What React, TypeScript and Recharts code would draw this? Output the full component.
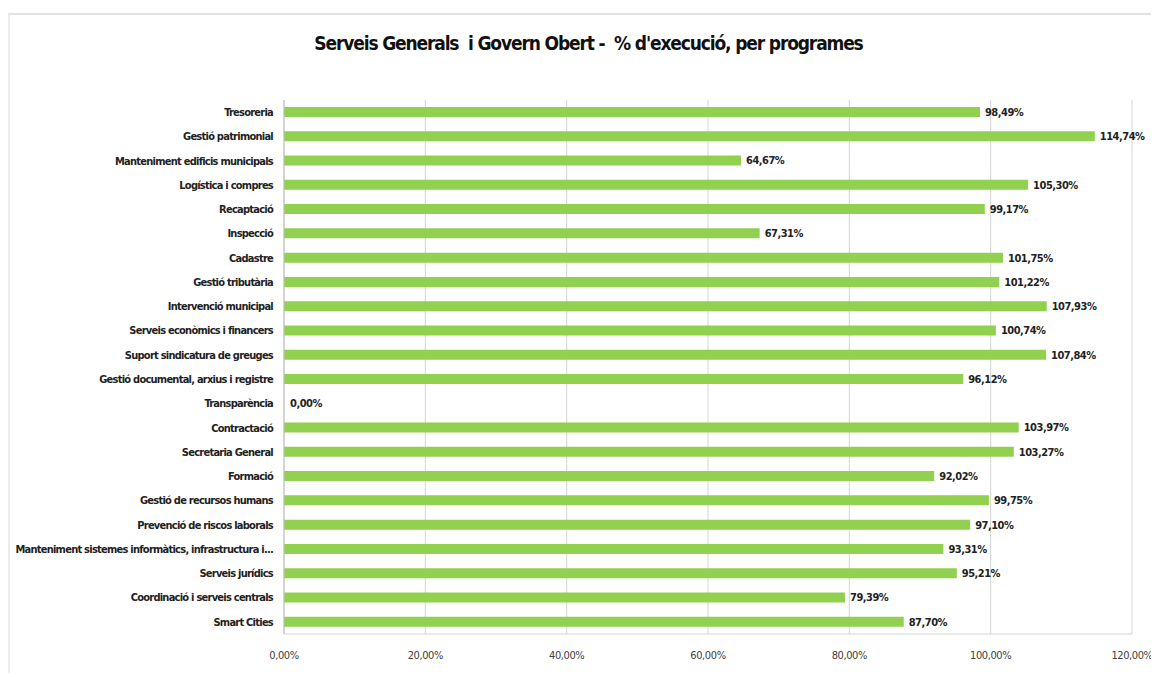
import React from "react";
import { BarChart, Bar, XAxis, YAxis, CartesianGrid, LabelList, Cell } from "recharts";

const programes = [
  "Tresoreria",
  "Gestió patrimonial",
  "Manteniment edificis municipals",
  "Logística i compres",
  "Recaptació",
  "Inspecció",
  "Cadastre",
  "Gestió tributària",
  "Intervenció municipal",
  "Serveis econòmics i financers",
  "Suport sindicatura de greuges",
  "Gestió documental, arxius i registre",
  "Transparència",
  "Contractació",
  "Secretaria General",
  "Formació",
  "Gestió de recursos humans",
  "Prevenció de riscos laborals",
  "Manteniment sistemes informàtics, infrastructura i...",
  "Serveis jurídics",
  "Coordinació i serveis centrals",
  "Smart Cities",
];

const execucio = [
  98.49, 114.74, 64.67, 105.3, 99.17, 67.31, 101.75, 101.22, 107.93, 100.74, 107.84,
  96.12, 0, 103.97, 103.27, 92.02, 99.75, 97.1, 93.31, 95.21, 79.39, 87.7,
];

const xTicks = [0, 20, 40, 60, 80, 100, 120];

const title = "Serveis Generals  i Govern Obert -  % d'execució, per programes";

const data = programes.map((name, i) => ({ name, value: execucio[i] }));

const fmt = (v: number) => v.toFixed(2).replace(".", ",") + "%";

const FONT = "'DejaVu Sans', sans-serif";
const BAR_COLOR = "#92D050";

const CategoryTick = (props: any) => {
  const { x, y, payload } = props;
  return (
    <text
      x={x}
      y={y}
      dy="0.355em"
      textAnchor="end"
      fontSize={11}
      fontWeight="bold"
      fill="#222"
      letterSpacing={-0.75}
      style={{ fontFamily: FONT, fontStretch: "condensed" }}
    >
      {payload.value}
    </text>
  );
};

const ValueTick = (props: any) => {
  const { x, y, payload } = props;
  return (
    <text
      x={x}
      y={y}
      dy="0.71em"
      textAnchor="middle"
      fontSize={11}
      fill="#404040"
      letterSpacing={-0.4}
      style={{ fontFamily: FONT, fontStretch: "condensed" }}
    >
      {fmt(Number(payload.value))}
    </text>
  );
};

const ValueLabel = (props: any) => {
  const { x, y, width, height, value } = props;
  const xx = Number(x) + Number(width || 0) + 5;
  const yy = Number(y) + Number(height) / 2;
  return (
    <text
      x={xx}
      y={yy}
      dy="0.355em"
      textAnchor="start"
      fontSize={11}
      fontWeight="bold"
      fill="#222"
      letterSpacing={-0.5}
      style={{ fontFamily: FONT, fontStretch: "condensed" }}
    >
      {fmt(Number(value))}
    </text>
  );
};

export default function App() {
  return (
    <div style={{ position: "relative", width: 1151, height: 665, fontFamily: FONT }}>
      <div
        style={{
          position: "absolute",
          left: 0,
          top: 5,
          width: 1151,
          height: 660,
          borderTop: "2px solid #e2e2e2",
          borderLeft: "2px solid #ececec",
          boxSizing: "border-box",
        }}
      />
      <div
        style={{
          position: "absolute",
          left: 10,
          top: 24,
          width: 1141,
          textAlign: "center",
          fontSize: 19,
          fontWeight: "bold",
          fontStretch: "condensed",
          letterSpacing: -1.15,
          color: "#111",
          whiteSpace: "pre",
        }}
      >
        {title}
      </div>
      <div style={{ position: "absolute", left: 0, top: 0 }}>
        <BarChart
          width={1151}
          height={665}
          data={data}
          layout="vertical"
          margin={{ top: 92, right: 27, bottom: 9, left: 0 }}
          barCategoryGap={7}
        >
          <CartesianGrid horizontal={false} stroke="#d4d4d4" />
          <XAxis
            type="number"
            domain={[0, 120]}
            ticks={xTicks}
            axisLine={{ stroke: "#d4d4d4" }}
            tickLine={false}
            tickSize={0}
            tickMargin={17}
            height={30}
            tick={<ValueTick />}
          />
          <YAxis
            type="category"
            dataKey="name"
            width={276}
            axisLine={{ stroke: "#bfbfbf" }}
            tickLine={false}
            tickSize={0}
            tickMargin={11}
            interval={0}
            tick={<CategoryTick />}
          />
          <Bar dataKey="value" fill={BAR_COLOR} barSize={10} minPointSize={1} isAnimationActive={false}>
            {data.map((d, i) => (
              <Cell key={i} fill={d.value > 0 ? BAR_COLOR : "transparent"} />
            ))}
            <LabelList dataKey="value" content={<ValueLabel />} />
          </Bar>
        </BarChart>
      </div>
    </div>
  );
}
